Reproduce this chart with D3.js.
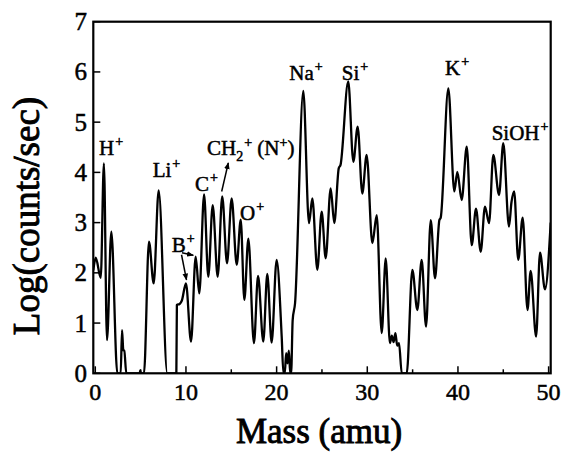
<!DOCTYPE html>
<html>
<head>
<meta charset="utf-8">
<script src="https://cdn.jsdelivr.net/npm/d3@7"></script>
<style>
  body { margin: 0; background: #fff; }
  text { font-family: "Liberation Serif", "Times New Roman", serif; fill: #000; stroke: #000; stroke-width: 0.5px; }
  .title { stroke-width: 0.9px; }
</style>
</head>
<body>
<svg width="567" height="452"></svg>
<script>
// spectrum: mass (amu) and log(counts/sec)
var mass = [-0.22, 0.05, 0.6, 0.95, 1.29, 1.77, 2.43, 2.8, 2.95, 3.09, 3.2, 3.42, 4.9, 4.96, 5.02, 5.37,
  5.92, 6.44, 6.99, 7.94, 8.94, 9.0, 9.3, 9.55, 10.0, 10.56, 11.07, 11.47, 12.0, 12.46, 12.95, 13.5,
  14.0, 14.53, 15.04, 15.6, 16.04, 16.44, 16.88, 17.5, 17.95, 18.53, 18.97, 19.45, 20.0, 20.56, 20.75,
  20.9, 21.05, 21.2, 21.35, 21.5, 21.6, 21.77, 22.03, 22.94, 23.57, 23.94, 24.49, 24.97, 25.41, 25.96,
  26.36, 26.85, 27.05, 27.9, 28.46, 28.94, 29.45, 29.93, 30.56, 31.04, 31.59, 32.03, 32.5, 32.7, 32.9,
  33.1, 33.3, 33.5, 33.8, 34.35, 34.97, 35.52, 36.0, 36.48, 37.0, 37.47, 37.95, 38.1, 38.94, 39.6,
  39.93, 40.41, 40.97, 41.52, 41.99, 42.51, 42.98, 43.43, 43.9, 44.53, 45.0, 45.63, 45.9, 46.2, 46.65,
  47.14, 47.67, 48.02, 48.62, 49.05, 49.6, 50.23];
var logCounts = [2.05, 2.3, 1.9, 4.18, 0.66, 2.82, 0, 0, 0.86, 0.46, 0.45, 0, 0, 0.06, 0, 0,
  2.62, 1.79, 3.64, 0, 0, 1.36, 1.38, 1.45, 1.79, 0.63, 2.32, 1.59, 3.56, 1.92, 3.35, 1.92,
  3.52, 2.19, 3.48, 2.16, 3.06, 1.46, 2.68, 0.6, 1.94, 0.63, 1.98, 0.61, 2.26, 0.73, 0,
  0, 0.4, 0.2, 0.45, 0, 0, 1.06, 1.39, 5.62, 2.99, 3.48, 2.06, 3.22, 2.29, 3.68,
  2.99, 4.08, 4.15, 5.81, 4.21, 4.91, 3.58, 4.35, 2.59, 3.15, 0.8, 2.29, 0.6, 0.75, 0.62,
  0.8, 0.55, 0.6, 0, 0, 2.06, 1.26, 2.26, 0.93, 3.05, 1.89, 3.05, 3.1, 5.67, 3.62,
  4.01, 3.45, 4.51, 2.55, 3.28, 2.42, 3.32, 2.99, 4.35, 3.55, 4.58, 2.92, 3.4, 3.62, 2.26,
  3.1, 1.26, 2.04, 0.73, 2.4, 1.67, 3.0];

var xTicks = [0, 10, 20, 30, 40, 50];
var xMinor = [5, 15, 25, 35, 45];
var yTicks = [0, 1, 2, 3, 4, 5, 6, 7];

// peak labels, anchored in data units
var labelText = ["H", "Li", "C", "CH", "O", "B", "Na", "Si", "K", "SiOH"];
var labelSub  = ["", "", "", "2", "", "", "", "", "", ""];
var labelMass = [0.41, 6.33, 11.0, 12.32, 15.96, 8.43, 21.4, 27.18, 38.57, 43.72];
var labelLog  = [4.35, 3.91, 3.63, 4.35, 3.05, 2.41, 5.84, 5.84, 5.94, 4.64];

// arrows from labels to peaks: [mass1, log1, mass2, log2], head at second end
var arrows = [
  [13.94, 3.62, 14.67, 4.19],
  [9.56, 2.40, 10.81, 2.35],
  [9.51, 2.36, 10.06, 1.86]
];

var svg = d3.select("svg"),
    margin = {top: 21.7, right: 16.3, bottom: 78.7, left: 93.3},
    width = +svg.attr("width") - margin.left - margin.right,
    height = +svg.attr("height") - margin.top - margin.bottom;

var x = d3.scaleLinear().domain([-0.22, 50.23]).range([margin.left, margin.left + width]);
var y = d3.scaleLinear().domain([0, 7]).range([margin.top + height, margin.top]);

var defs = svg.append("defs");
defs.append("clipPath").attr("id", "clip")
  .append("rect")
  .attr("x", margin.left).attr("y", margin.top)
  .attr("width", width).attr("height", height);

defs.append("marker")
  .attr("id", "head")
  .attr("viewBox", "0 0 10 10")
  .attr("refX", 9).attr("refY", 5)
  .attr("markerWidth", 7).attr("markerHeight", 7)
  .attr("markerUnits", "userSpaceOnUse")
  .attr("orient", "auto")
  .append("path").attr("d", "M0,1 L10,5 L0,9 Z").attr("fill", "#000");

var pts = mass.map(function(m, i) { return [m, logCounts[i]]; });

var line = d3.line()
  .x(function(d) { return x(d[0]); })
  .y(function(d) { return y(d[1]); })
  .curve(d3.curveMonotoneX);

svg.append("path")
  .datum(pts)
  .attr("clip-path", "url(#clip)")
  .attr("d", line)
  .attr("fill", "none")
  .attr("stroke", "#000")
  .attr("stroke-width", 2.3)
  .attr("stroke-linejoin", "round");

// frame
svg.append("rect")
  .attr("x", margin.left).attr("y", margin.top)
  .attr("width", width).attr("height", height)
  .attr("fill", "none").attr("stroke", "#000").attr("stroke-width", 2.2);

// x ticks (inward)
var xAxis = svg.append("g");
xAxis.selectAll(".major").data(xTicks).enter().append("line")
  .attr("x1", function(d) { return x(d); }).attr("x2", function(d) { return x(d); })
  .attr("y1", y(0)).attr("y2", y(0) - 7)
  .attr("stroke", "#000").attr("stroke-width", 1.5);
xAxis.selectAll(".minor").data(xMinor).enter().append("line")
  .attr("x1", function(d) { return x(d); }).attr("x2", function(d) { return x(d); })
  .attr("y1", y(0)).attr("y2", y(0) - 4)
  .attr("stroke", "#000").attr("stroke-width", 1.5);
xAxis.selectAll("text").data(xTicks).enter().append("text")
  .attr("x", function(d) { return x(d); })
  .attr("y", 400)
  .attr("text-anchor", "middle")
  .style("font-size", "24px")
  .text(function(d) { return d; });

// y ticks (inward)
var yAxis = svg.append("g");
yAxis.selectAll("line").data(yTicks).enter().append("line")
  .attr("x1", margin.left).attr("x2", margin.left + 7)
  .attr("y1", function(d) { return y(d); }).attr("y2", function(d) { return y(d); })
  .attr("stroke", "#000").attr("stroke-width", 1.5);
yAxis.selectAll("text").data(yTicks).enter().append("text")
  .attr("x", 87)
  .attr("y", function(d) { return y(d) + 8.5; })
  .attr("text-anchor", "end")
  .style("font-size", "25px")
  .text(function(d) { return d; });

// axis titles
svg.append("text")
  .attr("class", "title")
  .attr("x", 319).attr("y", 443)
  .attr("text-anchor", "middle")
  .style("font-size", "35px")
  .text("Mass (amu)");

svg.append("text")
  .attr("class", "title")
  .attr("transform", "translate(39,216) rotate(-90)")
  .attr("text-anchor", "middle")
  .style("font-size", "37px")
  .text("Log(counts/sec)");

// peak labels
labelText.forEach(function(t, i) {
  var txt = svg.append("text")
    .attr("x", x(labelMass[i]))
    .attr("y", y(labelLog[i]))
    .style("font-size", "21px");
  txt.append("tspan").text(t);
  if (labelSub[i]) {
    txt.append("tspan").attr("dy", 6).style("font-size", "14px").text(labelSub[i]);
    txt.append("tspan").attr("dy", -14).attr("dx", 1).style("font-size", "14px").text("+");
    txt.append("tspan").attr("dy", 8).text(" (N");
    txt.append("tspan").attr("dy", -8).style("font-size", "14px").text("+");
    txt.append("tspan").attr("dy", 8).text(")");
  } else {
    txt.append("tspan").attr("dy", -9).attr("dx", 1).style("font-size", "14px").text("+");
  }
});

svg.selectAll(".arrow").data(arrows).enter().append("line")
  .attr("x1", function(d) { return x(d[0]); })
  .attr("y1", function(d) { return y(d[1]); })
  .attr("x2", function(d) { return x(d[2]); })
  .attr("y2", function(d) { return y(d[3]); })
  .attr("stroke", "#000").attr("stroke-width", 1.5)
  .attr("marker-end", "url(#head)");
</script>
</body>
</html>
